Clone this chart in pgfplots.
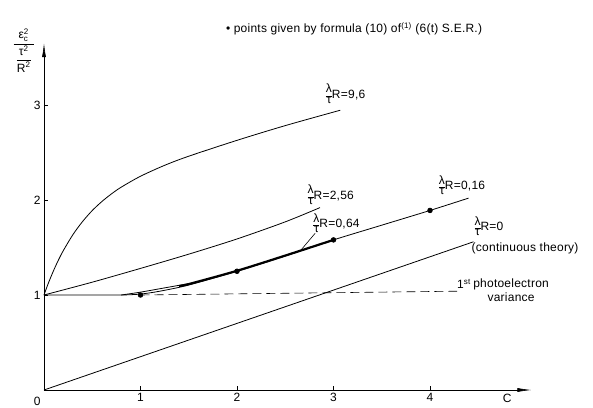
\documentclass[border=0pt]{standalone}
\usepackage{amsmath}
\usepackage{fontspec}
\setmainfont{Liberation Sans}[LetterSpace=2]
\usepackage{pgfplots}
\pgfplotsset{compat=1.18}
\usetikzlibrary{arrows.meta}

\newcommand{\lt}{{\renewcommand{\arraystretch}{0.72}\setlength{\arrayrulewidth}{0.6pt}%
    \begin{tabular}[c]{@{}c@{}}λ\\\hline τ\end{tabular}}}

\begin{document}
\begin{tikzpicture}
\begin{axis}[
    x=96.5pt, y=95pt,
    xmin=0, xmax=5.05, ymin=0, ymax=3.65,
    axis lines=left,
    axis line style={line width=0.6pt, -{Latex[length=14pt,width=4pt]}},
    xtick={1,2,3,4}, ytick={1,2,3},
    tick align=inside, major tick length=4pt,
    tick style={black, line width=0.6pt},
    ticklabel style={font=\fontsize{12}{14}\selectfont},
    /pgf/number format/assume math mode=true,
    clip=false,
    every axis plot/.append style={black, line width=0.8pt},
    nodes={font=\fontsize{12}{14}\selectfont},
]

% lambda R / tau = 0 (continuous theory)
\addplot[sharp plot] coordinates {(0,0) (4.45,1.56)};

% first photoelectron variance
\addplot[dash pattern=on 9pt off 5pt, line width=0.6pt] coordinates {(1,1) (4.28,1.04)};

% lambda R / tau = 9.6
\addplot[smooth] coordinates {
    (0,1) (0.025,1.070) (0.05,1.137) (0.1,1.259) (0.15,1.369) (0.2,1.467)
    (0.3,1.636) (0.4,1.774) (0.5,1.889) (0.6,1.984) (0.7,2.065) (0.8,2.135)
    (1.0,2.250) (1.25,2.365) (1.5,2.461) (2.0,2.628) (2.5,2.783) (3.07,2.945)
};

% lambda R / tau = 2.56
\addplot[smooth] coordinates {
    (0,1) (0.5,1.135) (1,1.28) (1.5,1.43) (2,1.59) (2.5,1.77) (2.86,1.92)
};

% lambda R / tau = 0.16
\addplot[smooth] coordinates {
    (0,1) (0.5,1) (0.8,1.0) (1,1.01) (1.2,1.04) (1.5,1.105) (2,1.25)
    (2.5,1.41) (3,1.58) (3.5,1.735) (4,1.89) (4.4,2.02)
};

% lambda R / tau = 0.64
\addplot[smooth] coordinates {
    (0.8,1.0) (1,1.03) (1.25,1.075) (1.5,1.12)
};
\addplot[smooth, line width=2.2pt] coordinates {
    (1.4,1.095) (1.5,1.115) (2,1.255) (2.5,1.415) (3,1.58)
};

% leader line for 0.64 label
\addplot[line width=0.6pt] coordinates {(2.66,1.47) (2.81,1.65)};

% points given by formula (10)
\addplot[only marks, mark=*, mark size=2.3pt] coordinates {
    (1,1) (2,1.25) (3,1.58) (4,1.89)
};

\node[anchor=west] at (axis cs:1.85,3.80)
    {\textbullet\ points given by formula (10) of\textsuperscript{(1)} (6(t) S.E.R.)};
\node at (axis cs:-0.21,3.57)
    {$\dfrac{\text{ε}^{\text{2}}_{\text{c}}}{\,\dfrac{\text{τ}^{\text{2}}}{\text{R}^{\text{2}}}\,}$};
\node at (axis cs:-0.07,-0.115) {0};
\node at (axis cs:4.8,-0.085) {C};

\node[anchor=west, inner sep=0pt] at (axis cs:2.92,3.10) {\lt R=9,6};
\node[anchor=west, inner sep=0pt] at (axis cs:2.73,2.04) {\lt R=2,56};
\node[anchor=west, inner sep=0pt] at (axis cs:4.09,2.14) {\lt R=0,16};
\node[anchor=west, inner sep=0pt] at (axis cs:2.79,1.74) {\lt R=0,64};
\node[anchor=west, inner sep=0pt] at (axis cs:4.46,1.71) {\lt R=0};
\node[anchor=west, inner sep=0pt] at (axis cs:4.43,1.49) {(continuous theory)};
\node[anchor=west, inner sep=0pt] at (axis cs:4.28,1.12) {1\textsuperscript{st}};
\node[align=center, inner sep=0pt] at (axis cs:4.84,1.05) {photoelectron\\variance};
\end{axis}
\pgfresetboundingbox
\path[use as bounding box] (-44pt,-17pt) rectangle (549pt,390pt);
\end{tikzpicture}
\end{document}
